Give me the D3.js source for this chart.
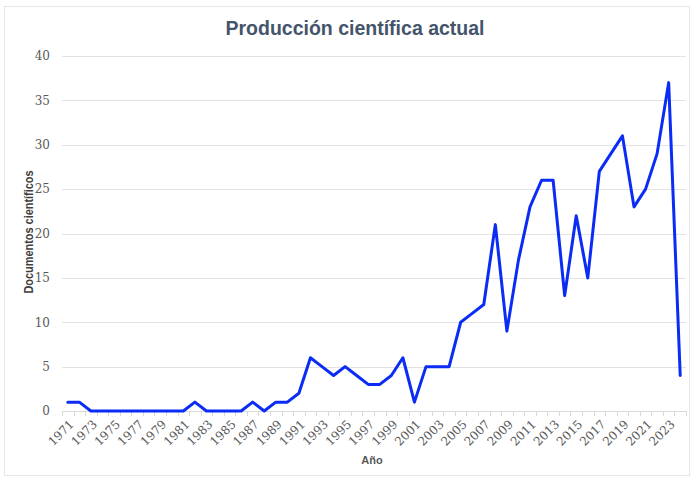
<!DOCTYPE html>
<html>
<head>
<meta charset="utf-8">
<script src="https://cdn.jsdelivr.net/npm/d3@7/dist/d3.min.js"></script>
<style>
  html, body { margin: 0; padding: 0; background: #ffffff; }
  svg { display: block; }
</style>
</head>
<body>
<svg id="chart" width="693" height="478"></svg>
<script>
const years = ["1971","1972","1973","1974","1975","1976","1977","1978","1979","1980",
  "1981","1982","1983","1984","1985","1986","1987","1988","1989","1990",
  "1991","1992","1993","1994","1995","1996","1997","1998","1999","2000",
  "2001","2002","2003","2004","2005","2006","2007","2008","2009","2010",
  "2011","2012","2013","2014","2015","2016","2017","2018","2019","2020",
  "2021","2022","2023","2024"];
const documentos = [1,1,0,0,0,0,0,0,0,0,
  0,1,0,0,0,0,1,0,1,1,
  2,6,5,4,5,4,3,3,4,6,
  1,5,5,5,10,11,12,21,9,17,
  23,26,26,13,22,15,27,29,31,23,
  25,29,37,4];
const yTicks = [0,5,10,15,20,25,30,35,40];
const xTickLabels = years.filter((d,i) => i % 2 === 0);
const titleText = "Producción científica actual";
const yTitle = "Documentos científicos";
const xTitle = "Año";

const svg = d3.select("#chart");
const plot = {left: 62, right: 686, top: 56, bottom: 411};
const serif = "'DejaVu Serif', 'Liberation Serif', serif";

// frame
svg.append("rect").attr("x", 4.5).attr("y", 6.5).attr("width", 685).attr("height", 469)
  .attr("fill", "#fff").attr("stroke", "#e6e6e6").attr("stroke-width", 1);

const x = d3.scaleBand().domain(years).range([plot.left, plot.right]).padding(0);
const y = d3.scaleLinear().domain([0, 40]).range([plot.bottom, plot.top]);

// gridlines
svg.append("g").selectAll("line").data(yTicks.filter(d => d > 0)).join("line")
  .attr("x1", plot.left).attr("x2", plot.right)
  .attr("y1", d => Math.round(y(d)) + 0.5).attr("y2", d => Math.round(y(d)) + 0.5)
  .attr("stroke", "#e3e3e3").attr("stroke-width", 1);

// y axis labels
const yAxis = d3.axisLeft(y).tickValues(yTicks).tickSize(0).tickPadding(0);
const gy = svg.append("g").attr("transform", `translate(${plot.left - 12},0)`).call(yAxis);
gy.select(".domain").remove();
gy.selectAll("text").attr("font-family", serif)
  .attr("font-size", 12).attr("fill", "#595959");

// x baseline and category ticks
svg.append("line").attr("x1", plot.left).attr("x2", plot.right)
  .attr("y1", plot.bottom + 0.5).attr("y2", plot.bottom + 0.5)
  .attr("stroke", "#d9d9d9").attr("stroke-width", 1);
const boundaries = years.map(d => x(d)).concat([x(years[years.length-1]) + x.bandwidth()]);
svg.append("g").selectAll("line").data(boundaries).join("line")
  .attr("x1", d => Math.round(d) + 0.5).attr("x2", d => Math.round(d) + 0.5)
  .attr("y1", plot.bottom).attr("y2", plot.bottom + 5)
  .attr("stroke", "#d9d9d9").attr("stroke-width", 1);

// x tick labels
const xAxis = d3.axisBottom(x).tickValues(xTickLabels).tickSize(0).tickPadding(0);
const gx = svg.append("g").attr("transform", `translate(0,${plot.bottom})`).call(xAxis);
gx.select(".domain").remove();
gx.selectAll("text")
  .attr("font-family", serif)
  .attr("font-size", 12).attr("fill", "#595959")
  .attr("text-anchor", "end")
  .attr("dy", null)
  .attr("transform", "translate(7,14) rotate(-45)");

// line
const line = d3.line()
  .x((d, i) => x(years[i]) + x.bandwidth() / 2)
  .y(d => y(d));
svg.append("path").datum(documentos)
  .attr("d", line)
  .attr("fill", "none").attr("stroke", "#0a2cf5")
  .attr("stroke-width", 3).attr("stroke-linejoin", "round").attr("stroke-linecap", "round");

// title
svg.append("text").attr("x", 355).attr("y", 35).attr("text-anchor", "middle")
  .attr("font-family", "'Liberation Sans', Arial, sans-serif")
  .attr("font-weight", "bold").attr("font-size", 21).attr("fill", "#44546a")
  .attr("textLength", 259).attr("lengthAdjust", "spacingAndGlyphs")
  .text(titleText);

// axis titles
svg.append("text").attr("transform", `translate(33,232) rotate(-90)`).attr("text-anchor", "middle")
  .attr("font-family", "'Liberation Sans', Arial, sans-serif")
  .attr("font-weight", "bold").attr("font-size", 12).attr("fill", "#404040")
  .attr("textLength", 123).attr("lengthAdjust", "spacingAndGlyphs")
  .text(yTitle);
svg.append("text").attr("x", 372).attr("y", 464).attr("text-anchor", "middle")
  .attr("font-family", "'Liberation Sans', Arial, sans-serif")
  .attr("font-weight", "bold").attr("font-size", 11).attr("fill", "#595959")
  .text(xTitle);
</script>
</body>
</html>
